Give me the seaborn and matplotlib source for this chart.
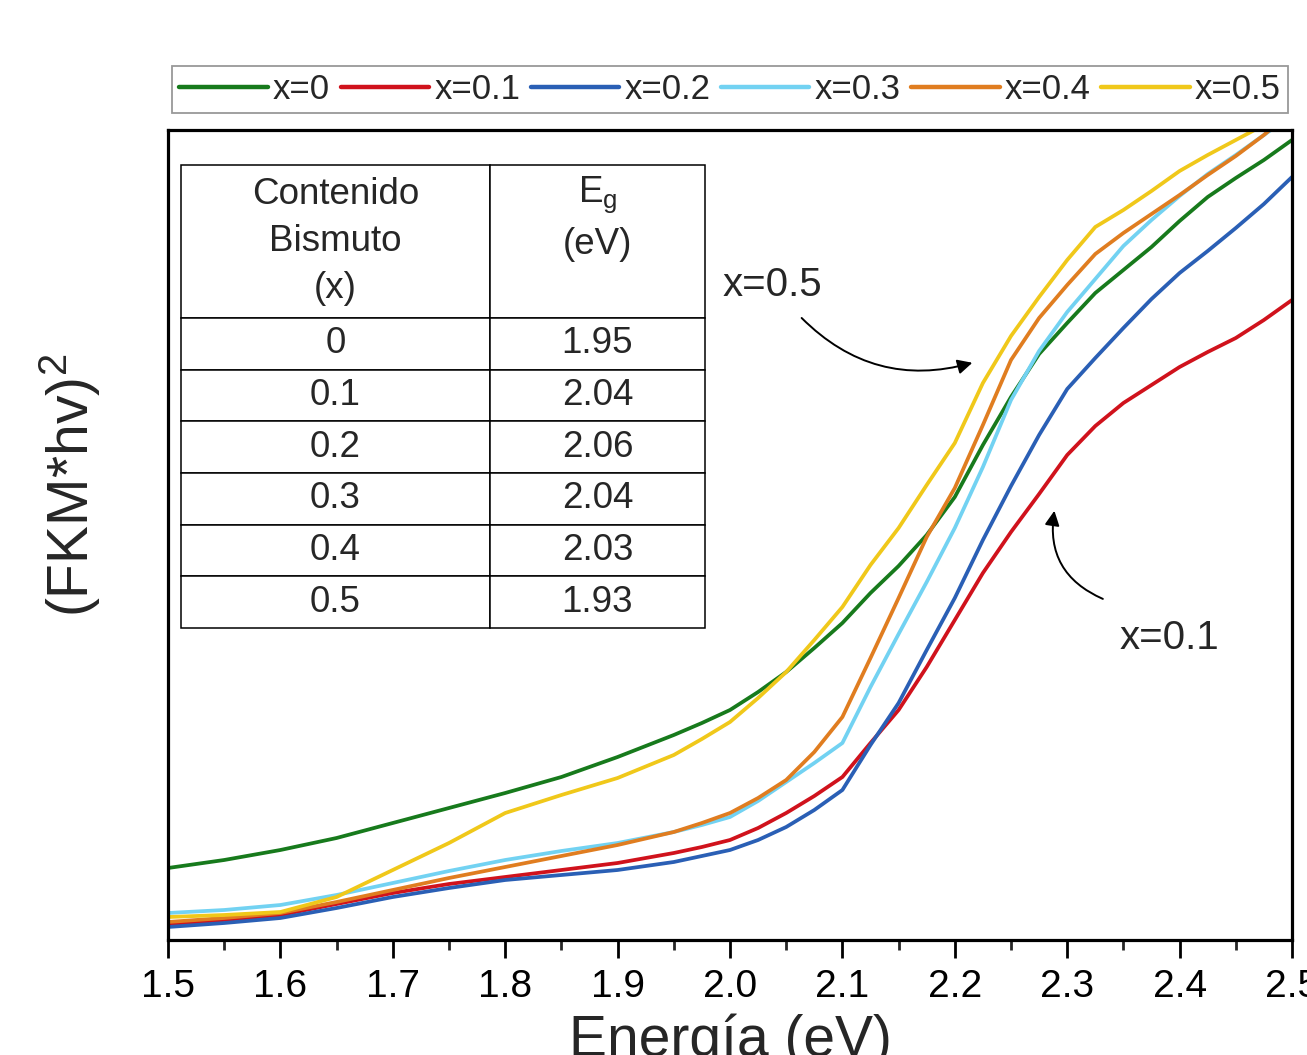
import matplotlib
matplotlib.use("Agg")
import matplotlib.pyplot as plt
import numpy as np
import pandas as pd
import seaborn as sns
from matplotlib.ticker import MultipleLocator, FormatStrFormatter

# ---------------- data (arbitrary units) ----------------
energia = [1.50, 1.55, 1.60, 1.65, 1.70, 1.75, 1.80, 1.85, 1.90, 1.95,
           1.975, 2.00, 2.025, 2.05, 2.075, 2.10, 2.125, 2.15, 2.175, 2.20,
           2.225, 2.25, 2.275, 2.30, 2.325, 2.35, 2.375, 2.40, 2.425, 2.45,
           2.475, 2.50]

serie_x0 = [72, 80, 90, 102, 117, 132, 147, 163, 183, 205,
            217, 230, 248, 268, 292, 317, 347, 374, 405, 443,
            495, 543, 586, 617, 647, 670, 693, 719, 743, 762,
            780, 800]
serie_x01 = [15, 20, 25, 36, 47, 56, 63, 70, 77, 87,
             93, 100, 112, 127, 144, 163, 197, 230, 273, 320,
             367, 408, 446, 485, 514, 537, 555, 573, 588, 602,
             620, 640]
serie_x02 = [13, 17, 22, 32, 43, 52, 60, 65, 70, 78,
             84, 90, 100, 113, 130, 150, 195, 237, 290, 342,
             400, 454, 505, 551, 582, 612, 641, 667, 689, 712,
             736, 763]
serie_x03 = [27, 30, 35, 45, 57, 69, 80, 89, 97, 108,
             115, 123, 139, 158, 177, 197, 253, 306, 358, 412,
             473, 540, 589, 628, 661, 694, 720, 744, 766, 785,
             805, 825]
serie_x04 = [18, 22, 27, 38, 50, 62, 73, 84, 95, 108,
             117, 127, 142, 160, 188, 223, 282, 342, 403, 452,
             515, 580, 622, 655, 686, 707, 726, 745, 765, 784,
             805, 829]
serie_x05 = [23, 25, 28, 43, 70, 97, 127, 145, 162, 185,
             201, 218, 242, 268, 300, 333, 375, 412, 455, 497,
             557, 604, 643, 680, 713, 730, 749, 769, 785, 800,
             815, 828]

series_labels = ["x=0", "x=0.1", "x=0.2", "x=0.3", "x=0.4", "x=0.5"]
series_values = [serie_x0, serie_x01, serie_x02, serie_x03, serie_x04, serie_x05]
series_colors = ["#177a1c", "#d0121c", "#2a5fb5", "#72d2f2", "#e07d20", "#f0c81a"]

tabla_x = ["0", "0.1", "0.2", "0.3", "0.4", "0.5"]
tabla_eg = ["1.95", "2.04", "2.06", "2.04", "2.03", "1.93"]

x_ticks = [1.5, 1.6, 1.7, 1.8, 1.9, 2.0, 2.1, 2.2, 2.3, 2.4, 2.5]

# ---------------- style ----------------
sns.set_theme(style="white")
fam = ["Liberation Sans", "DejaVu Sans"]
plt.rcParams["font.family"] = fam
plt.rcParams["mathtext.default"] = "regular"

rows = []
for lab, vals in zip(series_labels, series_values):
    for e, v in zip(energia, vals):
        rows.append({"Energia": e, "valor": v, "serie": lab})
df = pd.DataFrame(rows)
palette = dict(zip(series_labels, series_colors))

fig = plt.figure(figsize=(13.07, 10.55), dpi=100)
ax = fig.add_axes([168 / 1307, 115 / 1055, 1124 / 1307, 810 / 1055])

sns.lineplot(data=df, x="Energia", y="valor", hue="serie", hue_order=series_labels,
             palette=palette, linewidth=2.7, ax=ax, errorbar=None, legend=True)

ax.set_xlim(1.5, 2.5)
ax.set_ylim(0, 810)

# spines & ticks
for sp in ax.spines.values():
    sp.set_visible(True)
    sp.set_color("black")
    sp.set_linewidth(2.3)

ax.set_xticks(x_ticks)
ax.xaxis.set_major_formatter(FormatStrFormatter("%.1f"))
ax.xaxis.set_minor_locator(MultipleLocator(0.05))
ax.tick_params(axis="x", which="major", direction="out", length=13, width=2,
               labelsize=28, pad=8, bottom=True, colors="black")
ax.tick_params(axis="x", which="minor", direction="out", length=7, width=2, bottom=True)
ax.tick_params(axis="y", left=False, labelleft=False)
ax.set_yticks([])

ax.set_xlabel("Energía (eV)", fontsize=41, labelpad=6)
ax.set_ylabel("(FKM*hv)$^{2}$", fontsize=41)
ax.yaxis.set_label_coords(-0.058, (940 - 485) / 810)

# legend
handles, labels = ax.get_legend_handles_labels()
leg = ax.legend(handles, labels, ncol=6, loc="lower center", bbox_to_anchor=(0.5, 1.021),
                frameon=True, fancybox=False, fontsize=25, handlelength=2.55,
                handletextpad=0.15, columnspacing=0.3, borderpad=0.2, borderaxespad=0)
leg.get_frame().set_edgecolor("#7f7f7f")
leg.get_frame().set_linewidth(1.3)
for ln in leg.get_lines():
    ln.set_linewidth(3.2)

# table
cell_text = [["Contenido\nBismuto\n(x)", "E$_g$\n(eV)\n "]] + \
            [[a, b] for a, b in zip(tabla_x, tabla_eg)]
tbl = ax.table(cellText=cell_text, cellLoc="center", colWidths=[309, 215],
               bbox=[13 / 1124, (940 - 628) / 810, 524 / 1124, 463 / 810])
tbl.auto_set_font_size(False)
tbl.set_fontsize(26.5)
for (r, c), cell in tbl.get_celld().items():
    cell.set_edgecolor("black")
    cell.set_linewidth(1.1)
    cell.set_facecolor("white")
    cell.set_height(2.96 if r == 0 else 1.0)
    cell.get_text().set_linespacing(1.45)
tbl.set_zorder(5)

# annotations
ax.text(1.993, 655, "x=0.5", fontsize=29, ha="left", va="center")
ax.annotate("", xy=(2.218, 578), xytext=(2.062, 624),
            arrowprops=dict(arrowstyle="-|>", color="black", lw=1.4,
                            mutation_scale=22, connectionstyle="arc3,rad=0.3"))
ax.text(2.347, 302, "x=0.1", fontsize=29, ha="left", va="center")
ax.annotate("", xy=(2.289, 432), xytext=(2.334, 340),
            arrowprops=dict(arrowstyle="-|>", color="black", lw=1.4,
                            mutation_scale=22, connectionstyle="arc3,rad=-0.4"))

fig.savefig("out.png", dpi=100)
